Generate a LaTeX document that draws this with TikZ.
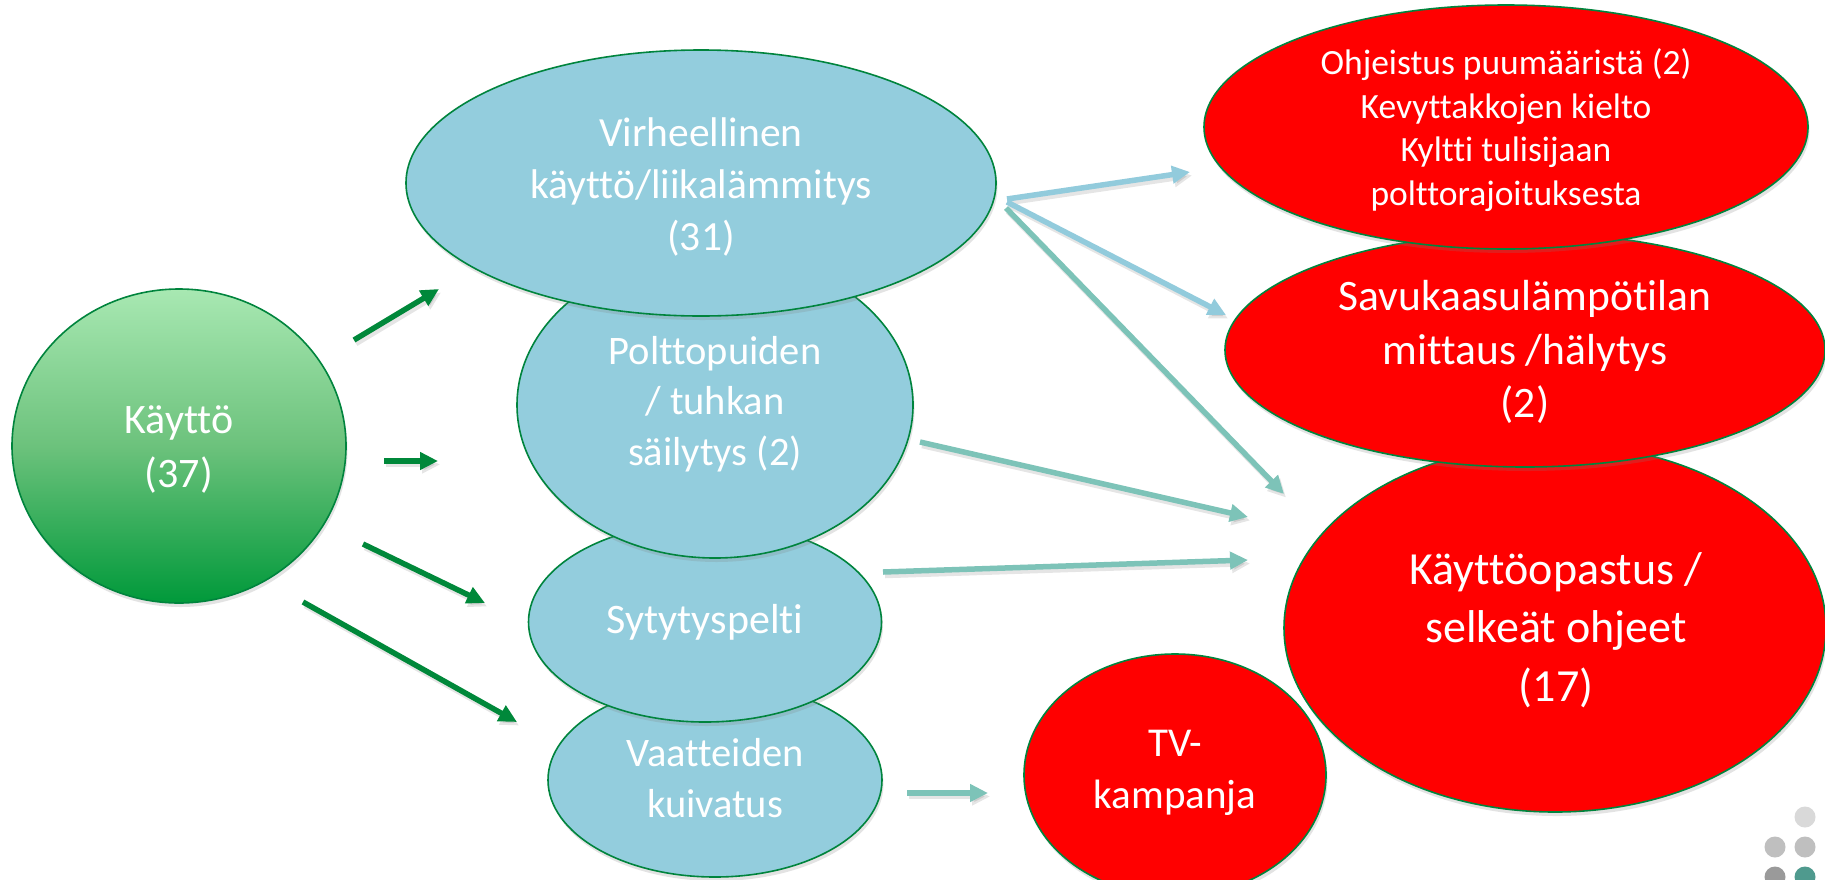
\documentclass[tikz,border=0pt]{standalone}
\usepackage{fontspec}
\setmainfont{Carlito}[Ligatures={NoCommon}]
\usetikzlibrary{arrows.meta,shapes.geometric,shadows}
\definecolor{bluefill}{HTML}{93CDDD}
\definecolor{edgegreen}{HTML}{00843D}
\definecolor{arrgreen}{HTML}{00883A}
\definecolor{arrblue}{HTML}{92CBDC}
\definecolor{arrteal}{HTML}{7DC3B8}
\definecolor{redfill}{HTML}{FF0000}
\definecolor{gtop}{HTML}{A8E8B2}
\definecolor{gmid}{HTML}{6CC27C}
\definecolor{gbot}{HTML}{00993A}
\definecolor{dotA}{HTML}{D9D9D9}
\definecolor{dotB}{HTML}{BFBFBF}
\definecolor{dotC}{HTML}{9A9A9A}
\definecolor{dotD}{HTML}{4F9A8E}
\begin{document}
\begin{tikzpicture}[x=1pt,y=-1pt,
  bubble/.style={ellipse, draw=edgegreen, line width=1.6pt, inner sep=0pt,
    drop shadow={opacity=0.22, shadow xshift=1.5pt, shadow yshift=-4pt}},
  bluebub/.style={bubble, fill=bluefill},
  redbub/.style={bubble, fill=redfill},
  greenbub/.style={bubble, top color=gtop, bottom color=gbot, middle color=gmid},
  txt/.style={text=white, align=center, inner sep=0pt},
  arr/.style={line width=5.5pt, -{Triangle[length=18pt,width=17pt]}},
  arrshadow/.style={arr, draw=black, opacity=0.10},
  greenarr/.style={arr, draw=arrgreen},
  bluearr/.style={arr, draw=arrblue},
  tealarr/.style={arr, draw=arrteal}
]
\useasboundingbox[fill=white] (0,0) rectangle (1825,879);

% green source circle
\node[greenbub, minimum width=334pt, minimum height=314pt] (kay) at (179,446) {};
\node[txt, font=\fontsize{42}{54}\selectfont] (kayT) at (179,450) {Käyttö\\(37)};

% blue ellipses (back to front)
\node[bluebub, minimum width=334pt, minimum height=194pt] (vaa) at (715,780) {};
\node[bluebub, minimum width=353pt, minimum height=200pt] (syt) at (705,622) {};
\node[bluebub, minimum width=396pt, minimum height=306pt] (pol) at (715,405) {};
\node[bluebub, minimum width=590pt, minimum height=266pt] (vir) at (701,183) {};

\node[txt, font=\fontsize{41.5}{52}\selectfont] (virT) at (701,187) {Virheellinen\\käyttö/liikalämmitys\\(31)};
\node[txt, font=\fontsize{40.5}{50.5}\selectfont] (polT) at (715,404) {Polttopuiden\\/ tuhkan\\säilytys (2)};
\node[txt, font=\fontsize{42}{52}\selectfont] (sytT) at (705,622) {Sytytyspelti};
\node[txt, font=\fontsize{40.5}{51}\selectfont] (vaaT) at (715,778) {Vaatteiden\\kuivatus};

% red ellipses (back to front)
\node[redbub, minimum width=302pt, minimum height=242pt] (tv) at (1175,775) {};
\node[redbub, minimum width=542pt, minimum height=368pt] (kop) at (1555,628) {};
\node[redbub, minimum width=600pt, minimum height=234pt] (sav) at (1525,350) {};
\node[redbub, minimum width=604pt, minimum height=244pt] (ohj) at (1506,127) {};

\node[txt, font=\fontsize{35.5}{43.5}\selectfont] (ohjT) at (1506,130) {Ohjeistus puumääristä (2)\\Kevyttakkojen kielto\\Kyltti tulisijaan\\polttorajoituksesta};
\node[txt, font=\fontsize{43.5}{53.5}\selectfont] (savT) at (1525,352) {Savukaasulämpötilan\\mittaus /hälytys\\(2)};
\node[txt, font=\fontsize{46}{58.5}\selectfont] (kopT) at (1556,630) {Käyttöopastus /\\selkeät ohjeet\\(17)};
\node[txt, font=\fontsize{41}{52}\selectfont] (tvT) at (1175,773) {TV-\\kampanja};

% arrow end points
\coordinate (g1s) at (354,340); \coordinate (g1e) at (439,289);
\coordinate (g2s) at (384,461); \coordinate (g2e) at (438,461);
\coordinate (g3s) at (363,544); \coordinate (g3e) at (485,603);
\coordinate (g4s) at (303,602); \coordinate (g4e) at (517,722);
\coordinate (b1s) at (1007,199); \coordinate (b1e) at (1190,172);
\coordinate (b2s) at (1007,202); \coordinate (b2e) at (1226,315);
\coordinate (t1s) at (1006,208); \coordinate (t1e) at (1284,494);
\coordinate (t2s) at (920,442); \coordinate (t2e) at (1248,517);
\coordinate (t3s) at (883,572); \coordinate (t3e) at (1248,560);
\coordinate (t4s) at (907,793); \coordinate (t4e) at (988,793);

% soft shadows of the arrows
\foreach \a in {g1,g2,g3,g4,b1,b2,t1,t2,t3,t4}
  \draw[arrshadow] ([shift={(2,3.5)}]\a s) -- ([shift={(2,3.5)}]\a e);

\draw[greenarr] (g1s) -- (g1e);
\draw[greenarr] (g2s) -- (g2e);
\draw[greenarr] (g3s) -- (g3e);
\draw[greenarr] (g4s) -- (g4e);
\draw[tealarr] (t1s) -- (t1e);
\draw[bluearr] (b1s) -- (b1e);
\draw[bluearr] (b2s) -- (b2e);
\draw[tealarr] (t2s) -- (t2e);
\draw[tealarr] (t3s) -- (t3e);
\draw[tealarr] (t4s) -- (t4e);

% decorative dots, bottom right
\begin{scope}
\clip (0,0) rectangle (1825,879);
\fill[dotA] (1805,817) circle (10.5);
\fill[dotB] (1775,847) circle (10.5);
\fill[dotB] (1805,847) circle (10.5);
\fill[dotC] (1775,877) circle (10.5);
\fill[dotD] (1805,877) circle (10.5);
\end{scope}
\end{tikzpicture}
\end{document}
